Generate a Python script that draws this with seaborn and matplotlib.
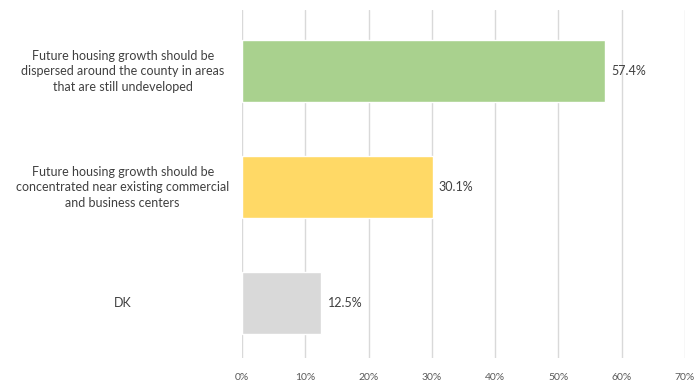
import matplotlib.pyplot as plt
import seaborn as sns
import pandas as pd

# Survey responses (share of respondents)
categories = [
    "Future housing growth should be\ndispersed around the county in areas\nthat are still undeveloped",
    "Future housing growth should be\nconcentrated near existing commercial\nand business centers",
    "DK",
]
shares = [57.4, 30.1, 12.5]
bar_colors = ["#A9D18E", "#FFD966", "#D9D9D9"]
x_ticks = [0, 10, 20, 30, 40, 50, 60, 70]

data = pd.DataFrame({"Response": categories, "Share": shares})

sns.set_theme(style="white")
plt.rcParams["font.family"] = ["Lato", "DejaVu Sans"]

fig = plt.figure(figsize=(6.94, 3.85), dpi=100)
ax = fig.add_axes([0.349, 0.070, 0.638, 0.904])

sns.barplot(data=data, x="Share", y="Response", hue="Response",
            palette=bar_colors, saturation=1, legend=False, width=0.54,
            ax=ax, zorder=3)

for i, v in enumerate(shares):
    ax.text(v + 1.0, i, f"{v:.1f}%", va="center", ha="left",
            fontsize=9, color="#404040")

# category labels, centred in the left margin
ax.set_yticks(range(len(categories)))
ax.set_yticklabels([])
for i, cat in enumerate(categories):
    ax.text(-0.27, i, cat, transform=ax.get_yaxis_transform(),
            ha="center", va="center", multialignment="center",
            fontsize=9, color="#404040", linespacing=1.35)

ax.set_ylim(2.474, -0.526)
ax.set_xlim(0, 70)
ax.set_xticks(x_ticks)
ax.set_xticklabels([f"{t}%" for t in x_ticks], fontsize=7.5, color="#595959")
ax.xaxis.grid(True, color="#D9D9D9", linewidth=1, zorder=0)
ax.set_axisbelow(True)
ax.tick_params(axis="both", length=0, pad=11)
ax.set_xlabel("")
ax.set_ylabel("")
sns.despine(left=True, bottom=True)

fig.savefig("out.png", dpi=100)
